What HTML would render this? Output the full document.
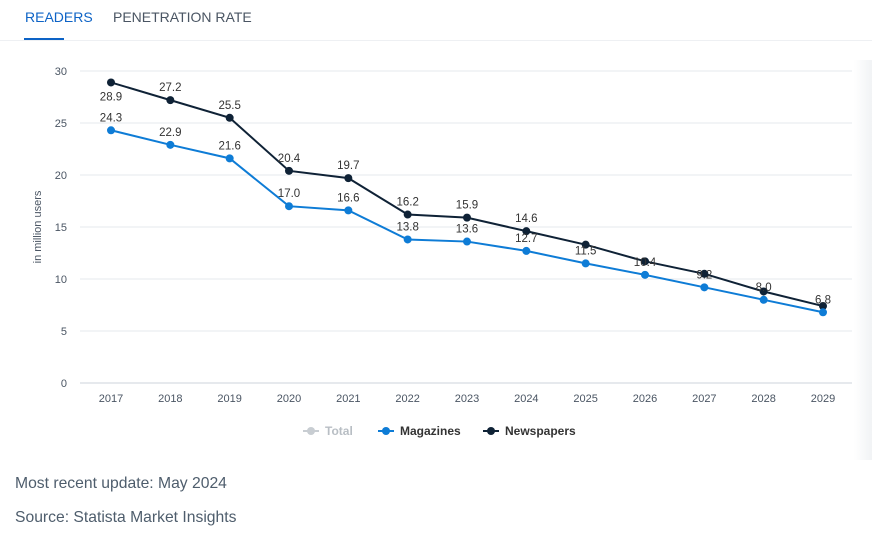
<!DOCTYPE html>
<html><head><meta charset="utf-8"><style>
body{margin:0;width:872px;height:543px;background:#fff;font-family:"Liberation Sans",sans-serif;overflow:hidden;position:relative}
.tab{position:absolute;top:9px;font-size:14px;color:#4a5563}
</style></head><body>
<div class="tab" style="left:25px;color:#0d63c6">READERS</div>
<div class="tab" style="left:113px">PENETRATION RATE</div>
<div style="position:absolute;left:24px;top:38px;width:40px;height:3px;background:#0d63c6"></div>
<div style="position:absolute;left:0;top:40px;width:872px;height:1px;background:#eef0f3"></div>
<div style="position:absolute;left:854px;top:60px;width:18px;height:400px;background:linear-gradient(90deg,#fff,#f1f3f5)"></div>
<svg id="chart" width="872" height="460" style="position:absolute;left:0;top:0"></svg>
<div style="position:absolute;left:15px;top:475px;font-size:15.7px;color:#4e5d6c">Most recent update: May 2024</div>
<div style="position:absolute;left:15px;top:509px;font-size:15.7px;color:#4e5d6c">Source: Statista Market Insights</div>
<script>
const years=[2017,2018,2019,2020,2021,2022,2023,2024,2025,2026,2027,2028,2029];
const magazines=[24.3,22.9,21.6,17.0,16.6,13.8,13.6,12.7,11.5,10.4,9.2,8.0,6.8];
const newspapers=[28.9,27.2,25.5,20.4,19.7,16.2,15.9,14.6,13.3,11.7,10.5,8.8,7.4];
const yTicks=[0,5,10,15,20,25,30];
const NS="http://www.w3.org/2000/svg";
const svg=document.getElementById('chart');
const x=i=>111+i*(823-111)/(years.length-1);
const y=v=>383-v*(383-71)/30;
function el(t,a,txt){const e=document.createElementNS(NS,t);for(const k in a)e.setAttribute(k,a[k]);if(txt!==undefined)e.textContent=txt;svg.appendChild(e);return e;}
yTicks.forEach(t=>{
 const g=el('line',{x1:80,x2:852,y1:y(t),y2:y(t),stroke:t===0?'#ccd3db':'#e6e9ed','stroke-width':1});
 
 
 const l=el('text',{x:67,y:y(t)+4,'text-anchor':'end','font-size':11,fill:'#4a5563'},t);
 
 
});
years.forEach((yr,i)=>{
 const l=el('text',{x:x(i),y:402,'text-anchor':'middle','font-size':11,fill:'#4a5563'},yr);
 
 
});
const yt=el('text',{x:0,y:0,transform:'translate(41,227) rotate(-90)','text-anchor':'middle','font-size':11,fill:'#4a5563'},'in million users');


function series(vals,color,name,labelFn){
 const p=el('polyline',{points:vals.map((v,i)=>x(i)+','+y(v)).join(' '),fill:'none',stroke:color,'stroke-width':2});
 
 
 vals.forEach((v,i)=>{
  const c=el('circle',{cx:x(i),cy:y(v),r:4,fill:color});
  
  
  const dy=labelFn(i);
  if(dy!==null){
   const t=el('text',{x:x(i),y:y(v)+dy,'text-anchor':'middle','font-size':11.5,fill:'#333'},v.toFixed(1));
   
   
  }
 });
}
series(newspapers,'#0f2236','newspapers',i=>i===0?18:(i>=8?null:-9));
series(magazines,'#0e7cd6','magazines',i=>-9);
const leg=[['Total','#c8cdd2','#b8bec4'],['Magazines','#0e7cd6','#333'],['Newspapers','#0f2236','#333']];
const lx=[303,378,483];
leg.forEach((d,i)=>{
 const ln=el('line',{x1:lx[i],x2:lx[i]+16,y1:431,y2:431,stroke:d[1],'stroke-width':2});
 
 
 const c=el('circle',{cx:lx[i]+8,cy:431,r:4,fill:d[1]});
 
 
 const t=el('text',{x:lx[i]+22,y:435,'font-size':12,'font-weight':'bold',fill:d[2]},d[0]);
 
 
});
</script>
</body></html>
